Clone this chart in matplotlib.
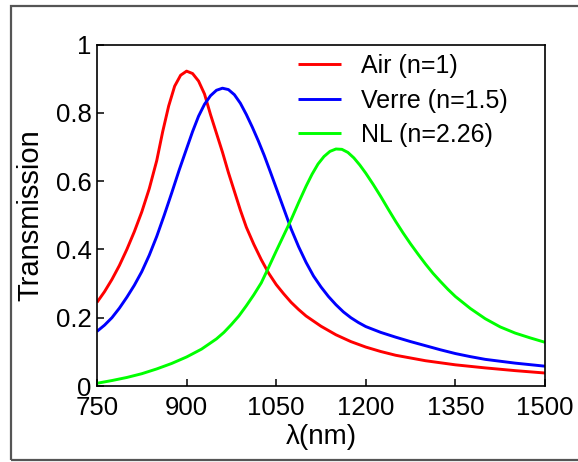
import matplotlib
matplotlib.use("Agg")
import matplotlib.pyplot as plt
from matplotlib.patches import Rectangle

plt.rcParams['font.family'] = ['Liberation Sans', 'DejaVu Sans']

# Air (n=1)
lam_air = [750, 762.5, 775, 787.5, 800, 812.5, 825, 837.5, 850, 860, 870, 880, 890,
           900, 910, 920, 930, 940, 950, 960, 970, 980, 990, 1000, 1012.5, 1025,
           1037.5, 1050, 1062.5, 1075, 1087.5, 1100, 1125, 1150, 1175, 1200, 1225,
           1250, 1300, 1350, 1400, 1450, 1500]
T_air = [0.245, 0.276, 0.312, 0.353, 0.40, 0.452, 0.51, 0.578, 0.66, 0.745, 0.82,
         0.878, 0.91, 0.922, 0.915, 0.893, 0.855, 0.795, 0.74, 0.685, 0.625, 0.57,
         0.515, 0.465, 0.415, 0.37, 0.33, 0.297, 0.27, 0.245, 0.224, 0.205, 0.175,
         0.15, 0.13, 0.114, 0.101, 0.09, 0.074, 0.062, 0.053, 0.045, 0.038]

# Verre (n=1.5)
lam_verre = [750, 762.5, 775, 787.5, 800, 812.5, 825, 837.5, 850, 862.5, 875, 887.5,
             900, 910, 920, 930, 940, 950, 960, 970, 980, 990, 1000, 1010, 1020, 1030,
             1040, 1050, 1062.5, 1075, 1087.5, 1100, 1112.5, 1125, 1137.5, 1150,
             1162.5, 1175, 1187.5, 1200, 1225, 1250, 1275, 1300, 1325, 1350, 1375,
             1400, 1450, 1500]
T_verre = [0.16, 0.178, 0.20, 0.228, 0.26, 0.295, 0.335, 0.383, 0.438, 0.50, 0.565,
           0.632, 0.695, 0.745, 0.79, 0.825, 0.85, 0.866, 0.872, 0.868, 0.853, 0.828,
           0.795, 0.758, 0.718, 0.675, 0.628, 0.58, 0.52, 0.46, 0.408, 0.362, 0.322,
           0.29, 0.262, 0.238, 0.217, 0.20, 0.186, 0.174, 0.157, 0.143, 0.13, 0.118,
           0.106, 0.095, 0.086, 0.078, 0.067, 0.058]

# NL (n=2.26)
lam_nl = [750, 775, 800, 825, 850, 875, 900, 925, 950, 962.5, 975, 987.5, 1000,
          1012.5, 1025, 1037.5, 1050, 1062.5, 1075, 1087.5, 1100, 1110, 1120, 1130,
          1140, 1150, 1160, 1170, 1180, 1190, 1200, 1212.5, 1225, 1237.5, 1250,
          1262.5, 1275, 1287.5, 1300, 1312.5, 1325, 1337.5, 1350, 1375, 1400, 1425,
          1450, 1475, 1500]
T_nl = [0.008, 0.016, 0.025, 0.036, 0.05, 0.066, 0.085, 0.108, 0.138, 0.157, 0.18,
        0.205, 0.235, 0.267, 0.302, 0.348, 0.395, 0.441, 0.487, 0.537, 0.585, 0.62,
        0.65, 0.672, 0.687, 0.694, 0.693, 0.684, 0.668, 0.647, 0.623, 0.59, 0.555,
        0.518, 0.482, 0.448, 0.416, 0.386, 0.357, 0.33, 0.306, 0.283, 0.262, 0.227,
        0.197, 0.173, 0.155, 0.141, 0.128]

labels = ['Air (n=1)', 'Verre (n=1.5)', 'NL (n=2.26)']
colors = ['#ff0000', '#0000ff', '#00ff00']
xticks = [750, 900, 1050, 1200, 1350, 1500]
yticks = [0, 0.2, 0.4, 0.6, 0.8, 1]
ytick_labels = ['0', '0.2', '0.4', '0.6', '0.8', '1']

fig = plt.figure(figsize=(5.78, 4.62), dpi=100)
ax = fig.add_axes([97 / 578, 76 / 462, 448 / 578, 341.5 / 462])

for lam, T, lab, c in zip([lam_air, lam_verre, lam_nl], [T_air, T_verre, T_nl], labels, colors):
    ax.plot(lam, T, color=c, lw=2.1, label=lab, solid_joinstyle='round',
            solid_capstyle='butt')

ax.set_xlim(750, 1500)
ax.set_ylim(0, 1)
ax.set_xticks(xticks)
ax.set_xticklabels([str(v) for v in xticks])
ax.set_yticks(yticks)
ax.set_yticklabels(ytick_labels)
ax.tick_params(direction='in', length=5, width=1.1, labelsize=18.5, pad=4)
ax.tick_params(axis='x', pad=7)
for s in ax.spines.values():
    s.set_linewidth(1.2)

ax.set_xlabel('λ(nm)', fontsize=20, labelpad=3)
ax.set_ylabel('Transmission', fontsize=21, labelpad=8)

ax.legend(loc='upper left', bbox_to_anchor=(0.449, 0.972), frameon=False,
          fontsize=18, handlelength=1.7, handletextpad=0.8, labelspacing=0.42,
          borderpad=0, borderaxespad=0)

fig.patches.append(Rectangle((11 / 578, 2 / 462), 580 / 578, 454 / 462,
                             transform=fig.transFigure, fill=False,
                             edgecolor='#555555', lw=1.6, zorder=10))

fig.savefig('out.png', dpi=100)
